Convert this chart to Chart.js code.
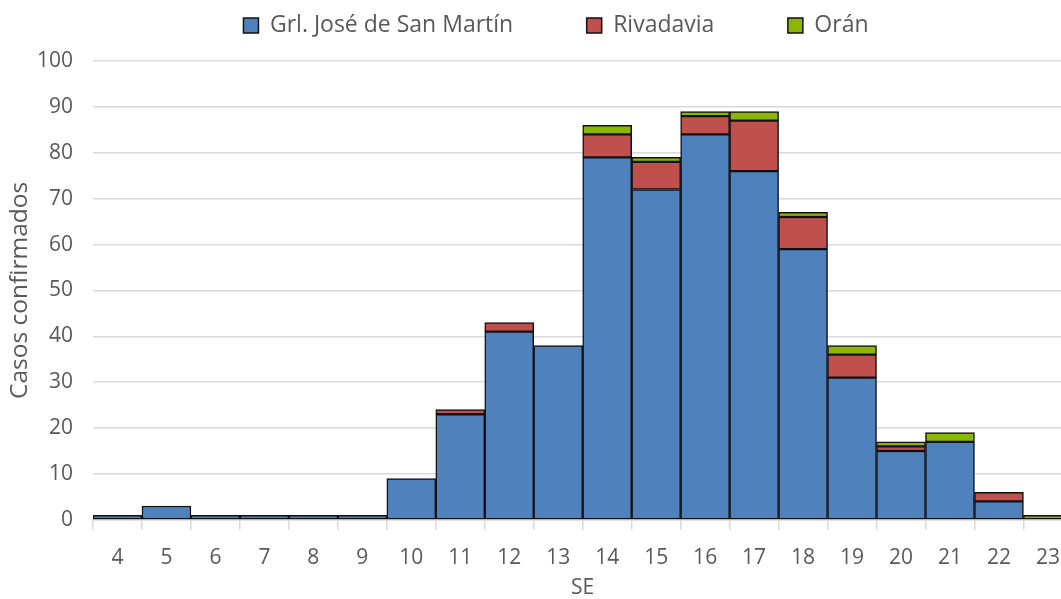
<!DOCTYPE html>
<html><head><meta charset="utf-8">
<script src="https://cdn.jsdelivr.net/npm/chart.js@4"></script>
<style>
html,body{margin:0;padding:0;overflow:hidden;background:#fff;}
#wrap{width:1076px;height:599px;}
</style></head>
<body><div id="wrap"><canvas id="c" width="1076" height="599"></canvas></div>
<script>
const categories = ["4","5","6","7","8","9","10","11","12","13","14","15","16","17","18","19","20","21","22","23"];
const sanMartin = [1,3,1,1,1,1,9,23,41,38,79,72,84,76,59,31,15,17,4,0];
const rivadavia = [0,0,0,0,0,0,0,1,2,0,5,6,4,11,7,5,1,0,2,0];
const oran      = [0,0,0,0,0,0,0,0,0,0,2,1,1,2,1,2,1,2,0,1];
const yTicks = [0,10,20,30,40,50,60,70,80,90,100];
const seriesNames = ["Grl. José de San Martín","Rivadavia","Orán"];

const FONT = "'Open Sans', sans-serif";
const TXT = '#595959';
const LEGEND_PAD = 73.5;
const LEGEND_FONT = 23;

function ds(label, data, color){
  return {label, data, backgroundColor:color, borderColor:'#111', borderWidth:1.5,
    borderSkipped:false, categoryPercentage:1, barPercentage:1};
}

// Move the legend row to where the reference draws it (after layout is computed)
const legendPlace = {
  id:'legendPlace',
  afterLayout(chart){
    const l = chart.legend; if(!l) return;
    const dy = (14 - LEGEND_PAD) - l.top;
    const dx = 19.5;
    l.top += dy; l.bottom += dy; l.left += dx; l.right += dx;
  }
};

new Chart(document.getElementById('c'), {
  type:'bar',
  data:{labels:categories, datasets:[
    ds(seriesNames[0], sanMartin, '#4F81BD'),
    ds(seriesNames[1], rivadavia, '#C0504D'),
    ds(seriesNames[2], oran, '#8DB600')
  ]},
  plugins:[legendPlace],
  options:{
    responsive:false, animation:false,
    layout:{padding:{left:0,right:3,top:-45.5,bottom:0}},
    plugins:{
      legend:{position:'top', labels:{font:{family:FONT,size:LEGEND_FONT}, color:TXT, boxWidth:15, boxHeight:15, padding:LEGEND_PAD}},
      tooltip:{enabled:false}
    },
    scales:{
      x:{stacked:true, offset:true,
        grid:{display:true, drawOnChartArea:false, drawTicks:true, tickLength:10, color:'#d9d9d9', offset:true, lineWidth:1.5},
        border:{display:true,color:'#d9d9d9', width:1.5},
        ticks:{font:{family:FONT,size:21}, color:TXT, padding:16},
        title:{display:true, text:'SE', font:{family:FONT,size:21,lineHeight:1}, color:TXT, padding:{top:-9,bottom:0}}
      },
      y:{stacked:true, min:0, max:100,
        afterBuildTicks:(s)=>{s.ticks = yTicks.map(v=>({value:v}));},
        afterFit:(s)=>{s.width = 93;},
        grid:{color:'#d9d9d9', lineWidth:1.5, drawTicks:false},
        border:{display:false},
        ticks:{font:{family:FONT,size:21}, color:TXT, padding:20},
        title:{display:true, text:'Casos confirmados', font:{family:FONT,size:24.5}, color:TXT, padding:{top:5,bottom:4}}
      }
    }
  }
});
</script></body></html>
